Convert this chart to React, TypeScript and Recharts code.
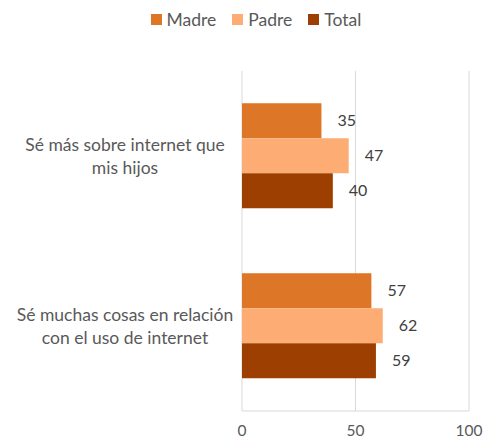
import { BarChart, Bar, XAxis, YAxis, CartesianGrid, Legend, LabelList } from 'recharts';

const categories = ['Sé más sobre internet que mis hijos', 'Sé muchas cosas en relación con el uso de internet'];
const categoryLines = [
  ['Sé más sobre internet que', 'mis hijos'],
  ['Sé muchas cosas en relación', 'con el uso de internet'],
];
const seriesNames = ['Madre', 'Padre', 'Total'];
const seriesColors = ['#DD7627', '#FDAD74', '#9C3F00'];
const madre = [35, 57];
const padre = [47, 62];
const total = [40, 59];
const xTicks = [0, 50, 100];

const data = categories.map((c, i) => ({
  name: c,
  Madre: madre[i],
  Padre: padre[i],
  Total: total[i],
}));

const FONT = 'Lato, "Open Sans", sans-serif';

function CategoryTick(props: any) {
  const { y, payload } = props;
  const lines = categoryLines[payload.index] ?? [String(payload.value)];
  const lh = 23;
  const start = y - ((lines.length - 1) * lh) / 2;
  return (
    <text textAnchor="middle" fill="#595959" fontSize={17.5} fontFamily={FONT}>
      {lines.map((l, i) => (
        <tspan key={i} x={125} y={start + i * lh} dy="0.35em">
          {l}
        </tspan>
      ))}
    </text>
  );
}

function LegendContent() {
  return (
    <div
      style={{
        display: 'flex',
        justifyContent: 'center',
        paddingLeft: 28,
        height: 21,
        lineHeight: '21px',
        fontSize: 17.5,
        fontFamily: FONT,
        color: '#595959',
      }}
    >
      {seriesNames.map((n, i) => (
        <div key={n} style={{ display: 'flex', alignItems: 'center', marginRight: i < seriesNames.length - 1 ? 16 : 0 }}>
          <span style={{ width: 11, height: 11, background: seriesColors[i], marginRight: 5, display: 'inline-block' }} />
          <span>{n}</span>
        </div>
      ))}
    </div>
  );
}

export default function App() {
  return (
    <div style={{ position: 'absolute', left: 0, top: 0, width: 484, height: 441, background: '#fff', fontFamily: FONT }}>
      <BarChart
        width={484}
        height={441}
        data={data}
        layout="vertical"
        margin={{ top: 50, right: 15, bottom: 0, left: 0 }}
        barCategoryGap="19%"
        barGap={0}
      >
        <CartesianGrid horizontal={false} stroke="#d9d9d9" />
        <XAxis
          type="number"
          domain={[0, 100]}
          ticks={xTicks}
          axisLine={{ stroke: '#d9d9d9' }}
          tickLine={false}
          tick={{ fontSize: 15.5, fill: '#595959', fontFamily: FONT }}
          tickMargin={8}
          height={30}
        />
        <YAxis
          type="category"
          dataKey="name"
          width={242}
          axisLine={false}
          tickLine={false}
          tick={<CategoryTick />}
        />
        <Legend verticalAlign="top" align="center" wrapperStyle={{ top: 9, left: 0, width: 484 }} content={<LegendContent />} />
        <Bar dataKey="Madre" fill={seriesColors[0]} isAnimationActive={false}>
          <LabelList dataKey="Madre" position="right" offset={16} fill="#404040" fontSize={16} fontFamily={FONT} />
        </Bar>
        <Bar dataKey="Padre" fill={seriesColors[1]} isAnimationActive={false}>
          <LabelList dataKey="Padre" position="right" offset={16} fill="#404040" fontSize={16} fontFamily={FONT} />
        </Bar>
        <Bar dataKey="Total" fill={seriesColors[2]} isAnimationActive={false}>
          <LabelList dataKey="Total" position="right" offset={16} fill="#404040" fontSize={16} fontFamily={FONT} />
        </Bar>
      </BarChart>
    </div>
  );
}
